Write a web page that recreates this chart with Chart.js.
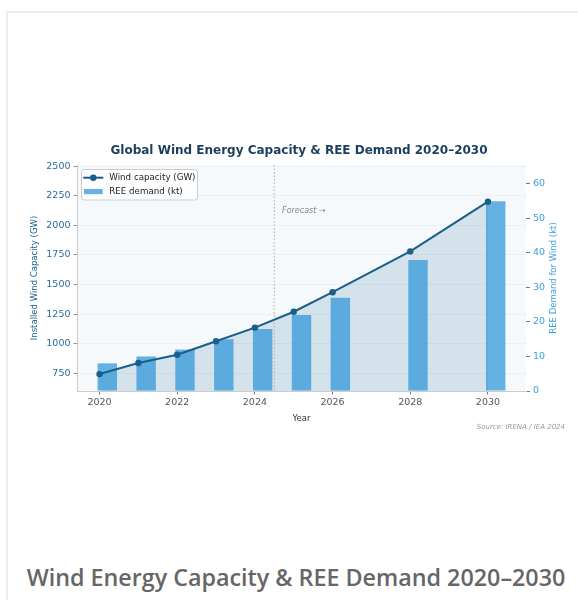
<!DOCTYPE html>
<html>
<head>
<meta charset="utf-8">
<title>Wind Energy Capacity &amp; REE Demand 2020–2030</title>
<script src="https://cdn.jsdelivr.net/npm/chart.js@4.4.1/dist/chart.umd.min.js"></script>
<style>
  html, body { margin: 0; padding: 0; background: #fff; overflow: hidden; }
  .card {
    position: absolute; left: 6px; top: 11px;
    width: 640px; height: 640px;
    border: 2px solid #ececec; box-sizing: border-box;
  }
  #chart-wrap { position: absolute; left: 20px; top: 130px; width: 558px; height: 310px; }
  .caption {
    position: absolute; left: 0; width: 592px; top: 561px;
    text-align: center; color: #666;
    font-family: 'Open Sans', sans-serif; font-weight: 600; font-size: 23.3px;
    white-space: nowrap;
  }
</style>
</head>
<body>
<div class="card"></div>
<div id="chart-wrap"><canvas id="wind-chart" width="558" height="310"></canvas></div>
<div class="caption">Wind Energy Capacity &amp; REE Demand 2020–2030</div>

<script>
// Yearly values (2027 and 2029 not reported)
const years = [2020, 2021, 2022, 2023, 2024, 2025, 2026, 2028, 2030];
const windCapacityGW = [743, 837, 906, 1021, 1136, 1270, 1435, 1780, 2200];
const reeDemandKt = [8, 10, 12, 15, 18, 22, 27, 38, 55];

// Axis ticks
const yearTicks = [2020, 2022, 2024, 2026, 2028, 2030];
const capacityTicks = [750, 1000, 1250, 1500, 1750, 2000, 2250, 2500];
const demandTicks = [0, 10, 20, 30, 40, 50, 60];

const forecastStart = 2024.5;

const LINE_COLOR = '#1a5e8a';
const FILL_COLOR = 'rgba(26, 94, 138, 0.15)';
const BAR_COLOR = 'rgba(52, 152, 219, 0.75)';
const DEMAND_COLOR = '#3a9fdf';
const FONT = "'DejaVu Sans', sans-serif";
const BAR_SHIFT = 0.2; // bars sit just right of their year

Chart.defaults.font.family = FONT;

function fixedTicks(values) {
    return scale => { scale.ticks = values.map(v => ({ value: v })); };
}

// Light panel behind the plot
const plotBackground = {
    id: 'plotBackground',
    beforeDraw(chart) {
        const { ctx, chartArea: a } = chart;
        ctx.save();
        ctx.fillStyle = '#f5f9fc';
        ctx.fillRect(a.left, a.top, a.right - a.left, a.bottom - a.top);
        ctx.restore();
    }
};

// Dotted divider between reported and projected years
const forecastMarker = {
    id: 'forecastMarker',
    beforeDatasetsDraw(chart) {
        const { ctx, chartArea: a, scales } = chart;
        const x = scales.x.getPixelForValue(forecastStart);
        ctx.save();
        ctx.strokeStyle = '#b0b0b0';
        ctx.lineWidth = 1;
        ctx.setLineDash([1.5, 2]);
        ctx.beginPath();
        ctx.moveTo(x, a.top);
        ctx.lineTo(x, a.bottom);
        ctx.stroke();
        ctx.setLineDash([]);
        ctx.fillStyle = '#888';
        ctx.font = `italic 8px ${FONT}`;
        ctx.textBaseline = 'middle';
        ctx.fillText('Forecast →', scales.x.getPixelForValue(forecastStart + 0.2), scales.y.getPixelForValue(2120));
        ctx.restore();
    }
};

// Legend box in the top-left corner, right axis title, source note
const chartExtras = {
    id: 'chartExtras',
    afterDraw(chart) {
        const { ctx, chartArea: a, scales } = chart;
        const [lineSet, barSet] = chart.data.datasets;
        ctx.save();

        // legend frame
        const lx = a.left + 4.5, ly = a.top + 4.5;
        ctx.fillStyle = 'rgba(255, 255, 255, 0.85)';
        ctx.strokeStyle = '#cccccc';
        ctx.lineWidth = 1;
        ctx.beginPath();
        ctx.roundRect(lx, ly, 116, 30.5, 3);
        ctx.fill();
        ctx.stroke();

        // line entry
        const row1 = a.top + 12.7;
        ctx.strokeStyle = lineSet.borderColor;
        ctx.lineWidth = lineSet.borderWidth;
        ctx.beginPath();
        ctx.moveTo(a.left + 6.3, row1);
        ctx.lineTo(a.left + 26.3, row1);
        ctx.stroke();
        ctx.fillStyle = lineSet.pointBackgroundColor;
        ctx.beginPath();
        ctx.arc(a.left + 16.3, row1, lineSet.pointRadius, 0, Math.PI * 2);
        ctx.fill();

        // bar entry
        const row2 = a.top + 26.6;
        ctx.fillStyle = barSet.backgroundColor;
        ctx.fillRect(a.left + 7, row2 - 2.6, 18.7, 5.2);

        ctx.fillStyle = '#222';
        ctx.font = `8.7px ${FONT}`;
        ctx.textBaseline = 'middle';
        ctx.fillText(lineSet.label, a.left + 32.3, row1);
        ctx.fillText(barSet.label, a.left + 32.3, row2);

        // right axis title, reading bottom to top
        const y1 = scales.y1;
        ctx.save();
        ctx.translate(534, (a.top + a.bottom) / 2);
        ctx.rotate(-Math.PI / 2);
        ctx.fillStyle = DEMAND_COLOR;
        ctx.font = `8.5px ${FONT}`;
        ctx.textAlign = 'center';
        ctx.textBaseline = 'middle';
        ctx.fillText(y1.options.title.text, 0, 0);
        ctx.restore();

        // source note
        ctx.fillStyle = '#999';
        ctx.font = `italic 7px ${FONT}`;
        ctx.textAlign = 'right';
        ctx.textBaseline = 'middle';
        ctx.fillText('Source: IRENA / IEA 2024', 545, 297);
        ctx.restore();
    }
};

new Chart(document.getElementById('wind-chart'), {
    type: 'bar',
    data: {
        datasets: [
            {
                type: 'line',
                label: 'Wind capacity (GW)',
                data: years.map((x, i) => ({ x, y: windCapacityGW[i] })),
                xAxisID: 'x',
                yAxisID: 'y',
                borderColor: LINE_COLOR,
                borderWidth: 2,
                pointRadius: 3.2,
                pointBackgroundColor: LINE_COLOR,
                pointBorderWidth: 0,
                backgroundColor: FILL_COLOR,
                fill: 'start',
                tension: 0,
                order: 0
            },
            {
                type: 'bar',
                label: 'REE demand (kt)',
                data: years.map((x, i) => ({ x: x + BAR_SHIFT, y: reeDemandKt[i] })),
                xAxisID: 'x',
                yAxisID: 'y1',
                backgroundColor: BAR_COLOR,
                categoryPercentage: 1,
                barPercentage: 0.5,
                order: 1
            }
        ]
    },
    options: {
        responsive: false,
        animation: false,
        layout: { padding: 0 },
        plugins: {
            legend: { display: false },
            tooltip: { enabled: false },
            filler: { drawTime: 'beforeDatasetsDraw' },
            title: {
                display: true,
                text: 'Global Wind Energy Capacity & REE Demand 2020–2030',
                color: '#1b3d5e',
                font: { size: 12, weight: 'bold' },
                padding: { top: 13.8, bottom: 6.8 }
            }
        },
        scales: {
            x: {
                type: 'linear',
                min: 2019.42,
                max: 2030.98,
                offset: false,
                afterBuildTicks: fixedTicks(yearTicks),
                afterFit: s => { s.height = 49; },
                ticks: { color: '#555', font: { size: 9.5 }, padding: 2, callback: v => String(v) },
                grid: { drawOnChartArea: false, offset: false, tickLength: 3.5, tickColor: '#777' },
                border: { color: '#cccccc' },
                title: { display: true, text: 'Year', color: '#333', font: { size: 8.5 }, padding: { top: 0, bottom: 16 } }
            },
            y: {
                position: 'left',
                min: 600,
                max: 2510,
                afterBuildTicks: fixedTicks(capacityTicks),
                afterFit: s => { s.width = 57; },
                ticks: { color: '#2d6b99', font: { size: 9.5 }, padding: 3, callback: v => String(v) },
                grid: { color: '#e8eef4', lineWidth: 0.8, tickLength: 3.5, tickColor: '#777' },
                border: { color: '#cccccc' },
                title: { display: true, text: 'Installed Wind Capacity (GW)', color: LINE_COLOR, font: { size: 8.5 }, padding: { top: 9.4, bottom: 0 } }
            },
            y1: {
                position: 'right',
                min: 0,
                max: 65.5,
                afterBuildTicks: fixedTicks(demandTicks),
                afterFit: s => { s.width = 52; },
                ticks: { color: DEMAND_COLOR, font: { size: 9.5 }, padding: 3 },
                grid: { drawOnChartArea: false, tickLength: 4, tickColor: '#777' },
                border: { display: false },
                title: { display: false, text: 'REE Demand for Wind (kt)' }
            }
        }
    },
    plugins: [plotBackground, forecastMarker, chartExtras]
});
</script>
</body>
</html>
